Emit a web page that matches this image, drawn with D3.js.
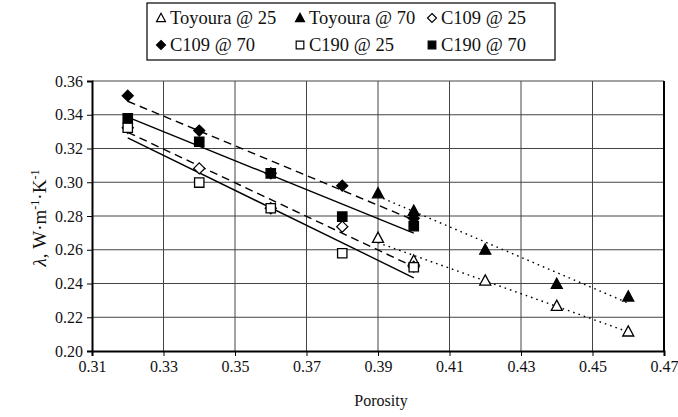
<!DOCTYPE html>
<html>
<head>
<meta charset="utf-8">
<script src="https://cdn.jsdelivr.net/npm/d3@7"></script>
</head>
<body style="margin:0;padding:0;background:#fff">
<svg id="chart" width="678" height="417"></svg>
<script>
// Porosity values measured for each sample set
const porosityToyoura = [0.39, 0.40, 0.42, 0.44, 0.46];
const porosityC = [0.32, 0.34, 0.36, 0.38, 0.40];

// Thermal conductivity (W/m·K)
const toyoura25 = [0.267, 0.2535, 0.2417, 0.2267, 0.2115];
const toyoura70 = [0.2934, 0.283, 0.260, 0.2397, 0.2322];
const c109_25 = [0.3323, 0.3082, 0.2846, 0.2737, 0.250];
const c109_70 = [0.3513, 0.3306, 0.3053, 0.298, 0.2786];
const c190_25 = [0.3323, 0.2998, 0.2846, 0.2579, 0.2496];
const c190_70 = [0.3379, 0.324, 0.3053, 0.2796, 0.274];

// Trend line values at the first and last porosity of each series
const trendToyoura25 = [0.2642, 0.2113];
const trendToyoura70 = [0.2917, 0.2284];
const trendC109_25 = [0.3296, 0.2499];
const trendC109_70 = [0.3480, 0.2776];
const trendC190_25 = [0.3263, 0.2434];
const trendC190_70 = [0.3386, 0.2698];

const seriesNames = ["Toyoura @ 25", "Toyoura @ 70", "C109 @ 25", "C109 @ 70", "C190 @ 25", "C190 @ 70"];
const xTicks = [0.31, 0.33, 0.35, 0.37, 0.39, 0.41, 0.43, 0.45, 0.47];
const yTicks = [0.20, 0.22, 0.24, 0.26, 0.28, 0.30, 0.32, 0.34, 0.36];

const series = [
  { name: seriesNames[0], x: porosityToyoura, y: toyoura25, trend: trendToyoura25, shape: "triangle", filled: false, dash: "1.6,4" },
  { name: seriesNames[1], x: porosityToyoura, y: toyoura70, trend: trendToyoura70, shape: "triangle", filled: true,  dash: "1.6,4" },
  { name: seriesNames[2], x: porosityC, y: c109_25, trend: trendC109_25, shape: "diamond", filled: false, dash: "8,5" },
  { name: seriesNames[3], x: porosityC, y: c109_70, trend: trendC109_70, shape: "diamond", filled: true,  dash: "8,5" },
  { name: seriesNames[4], x: porosityC, y: c190_25, trend: trendC190_25, shape: "square",  filled: false, dash: null },
  { name: seriesNames[5], x: porosityC, y: c190_70, trend: trendC190_70, shape: "square",  filled: true,  dash: null }
];

const SERIF = '"Liberation Serif"';
const svg = d3.select("#chart");
const plot = { left: 92, right: 664, top: 81, bottom: 351 };

const x = d3.scaleLinear().domain([0.31, 0.47]).range([plot.left, plot.right]);
const y = d3.scaleLinear().domain([0.20, 0.36]).range([plot.bottom, plot.top]);

// Grid
const grid = svg.append("g");
grid.selectAll("line.h").data(yTicks.slice(1)).join("line")
  .attr("x1", plot.left).attr("x2", plot.right)
  .attr("y1", d => y(d)).attr("y2", d => y(d))
  .attr("stroke", "#444").attr("stroke-width", 1);
grid.selectAll("line.v").data(xTicks.slice(1)).join("line")
  .attr("y1", plot.top).attr("y2", plot.bottom)
  .attr("x1", d => x(d)).attr("x2", d => x(d))
  .attr("stroke", "#444").attr("stroke-width", 1);
// right frame edge
svg.append("line").attr("x1", plot.right).attr("x2", plot.right)
  .attr("y1", plot.top).attr("y2", plot.bottom)
  .attr("stroke", "#000").attr("stroke-width", 2);

// Axes
const xAxis = d3.axisBottom(x).tickValues(xTicks).tickFormat(d3.format(".2f")).tickSize(5).tickPadding(5);
const yAxis = d3.axisLeft(y).tickValues(yTicks).tickFormat(d3.format(".2f")).tickSize(5).tickPadding(4);

const gx = svg.append("g").attr("transform", `translate(0,${plot.bottom})`).call(xAxis);
const gy = svg.append("g").attr("transform", `translate(${plot.left},0)`).call(yAxis);
[gx, gy].forEach(g => {
  g.attr("font-family", null).attr("font-size", null);
  g.select(".domain").attr("stroke", "#000").attr("stroke-width", 2);
  g.selectAll(".tick line").attr("stroke", "#000").attr("stroke-width", 1);
  g.selectAll(".tick text")
    .style("font-family", SERIF).style("font-size", "16px").attr("fill", "#111");
});

const lineGen = d3.line().x(d => x(d[0])).y(d => y(d[1]));
series.forEach(s => {
  const ends = d3.extent(s.x).map((v, i) => [v, s.trend[i]]);
  svg.append("path")
    .attr("d", lineGen(ends))
    .attr("fill", "none").attr("stroke", "#000").attr("stroke-width", 1.4)
    .attr("stroke-dasharray", s.dash);
});

// Marker shapes
function markerPath(shape, size) {
  const h = size / 2;
  if (shape === "triangle") return `M0,${-h * 1.05}L${h},${h * 0.8}L${-h},${h * 0.8}Z`;
  if (shape === "diamond") return `M0,${-h}L${h},0L0,${h}L${-h},0Z`;
  return `M${-h * 0.85},${-h * 0.85}H${h * 0.85}V${h * 0.85}H${-h * 0.85}Z`;
}

series.forEach(s => {
  svg.append("g").selectAll("path").data(s.x.map((v, i) => [v, s.y[i]])).join("path")
    .attr("transform", d => `translate(${x(d[0])},${y(d[1])})`)
    .attr("d", markerPath(s.shape, 11))
    .attr("fill", s.filled ? "#000" : "#fff")
    .attr("stroke", "#000").attr("stroke-width", 1.3);
});

// Axis titles
svg.append("text").attr("x", (plot.left + plot.right) / 2 + 3).attr("y", 406)
  .attr("text-anchor", "middle").attr("fill", "#111")
  .style("font-family", SERIF).style("font-size", "16px")
  .text("Porosity");

const yt = svg.append("text")
  .attr("transform", "translate(46,218) rotate(-90)")
  .attr("text-anchor", "middle").attr("fill", "#111")
  .style("font-family", SERIF).style("font-size", "19px");
yt.append("tspan").style("font-style", "italic").text("λ");
yt.append("tspan").text(", W·m");
yt.append("tspan").attr("dy", -7).style("font-size", "12px").text("-1");
yt.append("tspan").attr("dy", 7).text("·K");
yt.append("tspan").attr("dy", -7).style("font-size", "12px").text("-1");

// Legend
const legend = svg.append("g");
legend.append("rect").attr("x", 147).attr("y", 3).attr("width", 408).attr("height", 57)
  .attr("fill", "#fff").attr("stroke", "#000").attr("stroke-width", 1.2);
const colX = [161, 300, 432];
const rowY = [18, 45];
series.forEach((s, i) => {
  const cx = colX[i % 3], cy = rowY[Math.floor(i / 3)];
  legend.append("path").attr("transform", `translate(${cx},${cy})`)
    .attr("d", markerPath(s.shape, 9))
    .attr("fill", s.filled ? "#000" : "#fff")
    .attr("stroke", "#000").attr("stroke-width", 1.2);
  legend.append("text").attr("x", cx + 9).attr("y", cy + 6)
    .attr("fill", "#111")
    .style("font-family", SERIF).style("font-size", "18.5px").text(s.name);
});
</script>
</body>
</html>
